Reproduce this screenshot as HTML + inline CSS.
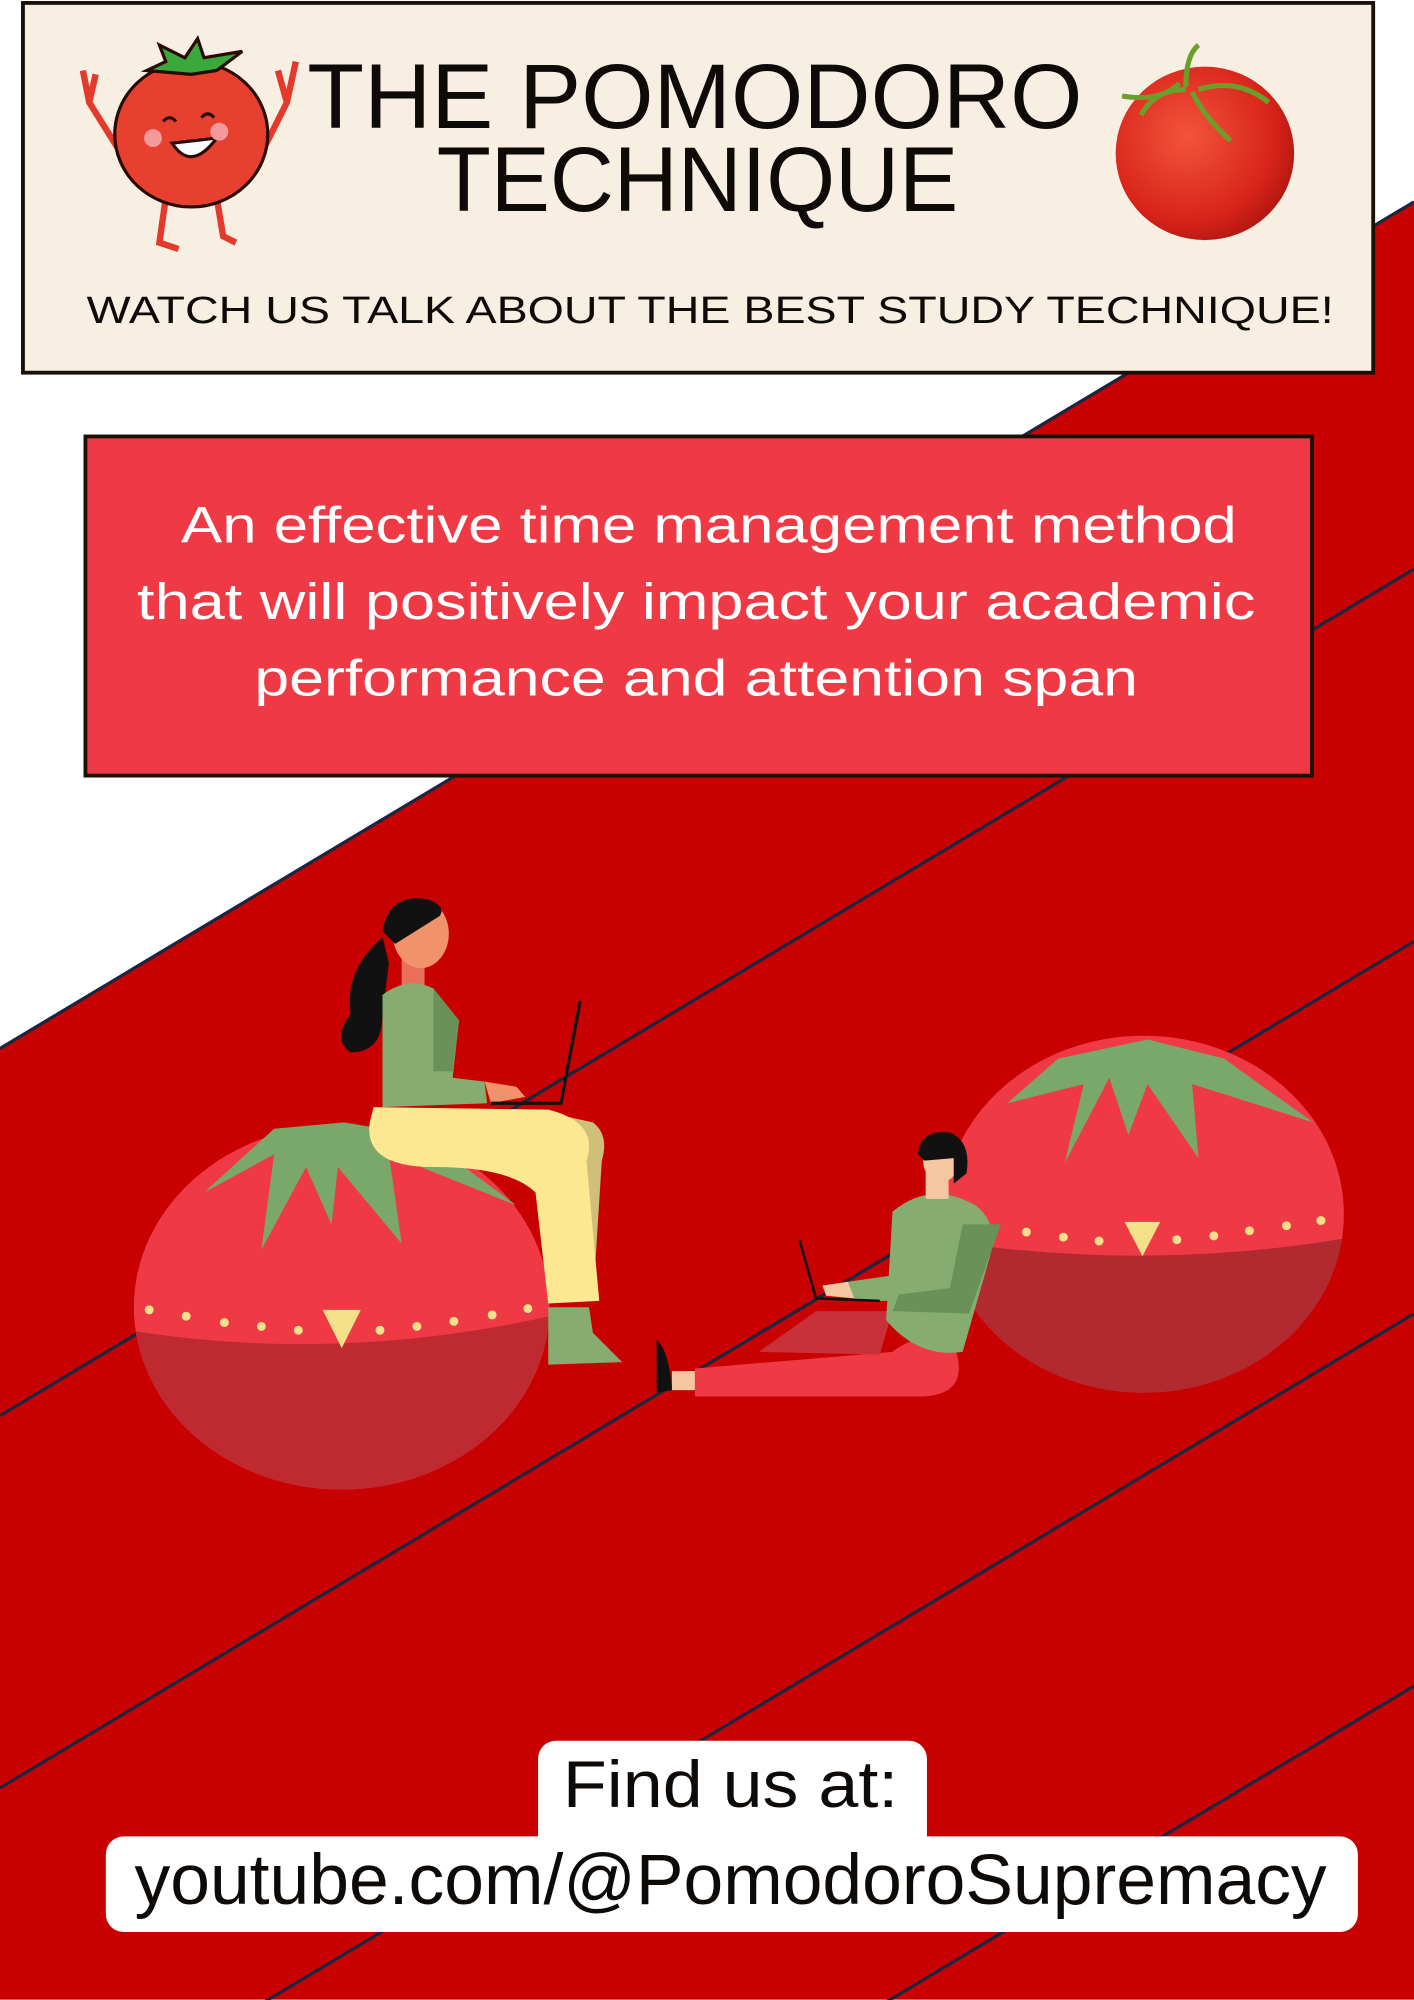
<!DOCTYPE html>
<html><head><meta charset="utf-8"><style>html,body{margin:0;padding:0;background:#fff;width:1414px;height:2000px;overflow:hidden}svg{display:block}</style></head>
<body>
<svg xmlns="http://www.w3.org/2000/svg" width="1414" height="2000" viewBox="0 0 1109 1568" font-family="'Liberation Sans', sans-serif">
<defs>
<clipPath id="cl"><ellipse cx="268" cy="1025" rx="163" ry="143"/></clipPath>
<clipPath id="cr"><ellipse cx="897" cy="952" rx="157" ry="140"/></clipPath>
<radialGradient id="tg" cx="0.4" cy="0.4" r="0.7"><stop offset="0" stop-color="#f2553a"/><stop offset="0.7" stop-color="#d8231a"/><stop offset="1" stop-color="#a5120e"/></radialGradient>
</defs>
<rect width="1109" height="1568" fill="#fff"/>
<polygon points="0,822 1109,158 1109,1568 0,1568" fill="#c80000"/>
<g stroke="#1c2540" stroke-width="2.5">
<line x1="0" y1="822" x2="1109" y2="158"/>
<line x1="0" y1="1110" x2="1109" y2="446"/>
<line x1="0" y1="1402" x2="1109" y2="738"/>
<line x1="0" y1="1694" x2="1109" y2="1030"/>
<line x1="0" y1="1986" x2="1109" y2="1322"/>
</g>
<rect x="18" y="2" width="1059" height="290" fill="#f8efe3" stroke="#1a1008" stroke-width="3"/>
<text x="545" y="100" font-size="72" text-anchor="middle" textLength="608" lengthAdjust="spacingAndGlyphs" fill="#0d0a08">THE POMODORO</text>
<text x="547" y="165" font-size="72" text-anchor="middle" textLength="409" lengthAdjust="spacingAndGlyphs" fill="#0d0a08">TECHNIQUE</text>
<text x="557" y="253" font-size="30" text-anchor="middle" textLength="978" lengthAdjust="spacingAndGlyphs" fill="#0d0a08">WATCH US TALK ABOUT THE BEST STUDY TECHNIQUE!</text>
<g stroke="#2a0a05" stroke-width="2.5">
<path d="M95,120 L70,80 L65,55 M70,80 L75,58" fill="none" stroke="#e33a2c" stroke-width="5"/>
<path d="M205,120 L225,80 L232,48 M225,80 L218,55" fill="none" stroke="#e33a2c" stroke-width="5"/>
<path d="M130,155 L125,190 L140,195 M170,155 L175,185 L185,190" fill="none" stroke="#e33a2c" stroke-width="5"/>
<ellipse cx="150" cy="105" rx="60" ry="57" fill="#e8402f"/>
<path d="M115,55 L130,48 L125,35 L145,45 L155,30 L160,45 L190,40 L170,55 L150,58 Z" fill="#3aa83a"/>
<path d="M135,112 Q150,135 170,108 Z" fill="#fff"/>
<path d="M128,95 q5,-6 10,0 M158,92 q5,-6 10,0" fill="none"/>
</g>
<circle cx="120" cy="108" r="7" fill="#f59a9a"/><circle cx="172" cy="103" r="7" fill="#f59a9a"/>
<ellipse cx="945" cy="120" rx="70" ry="68" fill="url(#tg)"/>
<path d="M925,65 q-15,15 -45,10 M930,68 q0,-25 10,-33 M940,70 q30,-10 55,10 M935,72 q10,20 30,38 M930,70 q-25,0 -35,20" stroke="#6aa02a" stroke-width="4" fill="none"/>
<rect x="67" y="342" width="962" height="266" fill="#ef3a45" stroke="#1a1008" stroke-width="3"/>
<g fill="#fff" font-size="40" text-anchor="middle">
<text x="556" y="425" textLength="828" lengthAdjust="spacingAndGlyphs">An effective time management method</text>
<text x="546" y="485" textLength="877" lengthAdjust="spacingAndGlyphs">that will positively impact your academic</text>
<text x="546" y="545" textLength="693" lengthAdjust="spacingAndGlyphs">performance and attention span</text>
</g>
<ellipse cx="268" cy="1025" rx="163" ry="143" fill="#ef3a45"/>
<path d="M100,1043 Q268,1070 440,1030 L440,1180 L100,1180 Z" fill="#bf2a30" clip-path="url(#cl)"/>
<polygon points="160,935 215,905 205,980 240,915 260,960 265,915 315,975 305,905 405,945 330,890 270,880 215,885" fill="#7aa86a"/>
<g fill="#f5e08a"><circle cx="117" cy="1027" r="3.5"/><circle cx="146" cy="1032" r="3.5"/><circle cx="176" cy="1037" r="3.5"/><circle cx="205" cy="1040" r="3.5"/><circle cx="234" cy="1043" r="3.5"/><circle cx="298" cy="1043" r="3.5"/><circle cx="327" cy="1040" r="3.5"/><circle cx="356" cy="1036" r="3.5"/><circle cx="386" cy="1031" r="3.5"/><circle cx="414" cy="1026" r="3.5"/>
<polygon points="253,1027 283,1027 268,1057"/></g>
<ellipse cx="897" cy="952" rx="157" ry="140" fill="#ef3a45"/>
<path d="M735,972 Q900,998 1060,970 L1060,1100 L735,1100 Z" fill="#b02a30" clip-path="url(#cr)"/>
<polygon points="790,865 850,850 835,912 870,845 885,890 900,850 940,908 935,850 1030,880 960,830 900,815 830,830" fill="#7aa86a"/>
<g fill="#f5e08a"><circle cx="805" cy="966" r="3.5"/><circle cx="834" cy="970" r="3.5"/><circle cx="862" cy="973" r="3.5"/><circle cx="923" cy="972" r="3.5"/><circle cx="952" cy="969" r="3.5"/><circle cx="980" cy="965" r="3.5"/><circle cx="1009" cy="961" r="3.5"/><circle cx="1036" cy="957" r="3.5"/>
<polygon points="882,958 910,958 896,985"/></g>
<path d="M300,735 Q270,760 275,795 Q260,815 275,825 Q300,825 300,795 L305,755 Z" fill="#111"/>
<rect x="315" y="748" width="18" height="30" fill="#e8705a"/>
<ellipse cx="330" cy="732" rx="22" ry="27" fill="#f0936d"/>
<path d="M300,730 Q305,700 335,705 Q350,710 345,718 L310,740 Z" fill="#111"/>
<path d="M300,780 Q320,765 340,775 L360,800 L355,845 L380,848 L382,865 L300,868 Z" fill="#86ad6f"/>
<path d="M340,775 L360,800 L355,840 L340,840 Z" fill="#6a9258"/>
<path d="M380,848 L405,852 L412,860 L385,865 Z" fill="#f0936d"/>
<path d="M420,870 L465,880 Q478,890 472,910 L465,1020 L440,1020 Z" fill="#d0bf78"/>
<path d="M293,868 L430,870 Q470,880 460,910 L470,1020 L430,1022 L420,935 Q400,915 340,915 Q285,915 290,880 Z" fill="#fce890"/>
<path d="M430,1025 L462,1025 L465,1045 L488,1068 L430,1070 Z" fill="#86ad6f"/>
<path d="M455,785 L440,865 L385,865" stroke="#111" stroke-width="2.5" fill="none"/>
<path d="M545,1073 L700,1060 Q725,1040 750,1060 Q760,1095 720,1095 L545,1095 Z" fill="#ef3a45"/>
<path d="M595,1060 L640,1028 L700,1028 L690,1062 Z" fill="#c8303a"/>
<rect x="527" y="1075" width="18" height="15" fill="#f5c7a0"/>
<path d="M515,1050 Q525,1060 527,1090 L515,1092 Z" fill="#111"/>
<path d="M700,950 Q730,925 765,945 Q785,960 775,990 L755,1060 Q720,1065 695,1035 Z" fill="#86ad6f"/>
<path d="M665,1005 L700,1000 L700,1020 L670,1020 Z" fill="#86ad6f"/>
<path d="M755,960 L785,960 L760,1030 L700,1028 L705,1015 L745,1010 Z" fill="#6a9258"/>
<path d="M645,1008 L665,1005 L670,1018 L648,1016 Z" fill="#f5c7a0"/>
<rect x="726" y="915" width="18" height="25" fill="#f5c7a0"/>
<ellipse cx="738" cy="910" rx="14" ry="17" fill="#f5c7a0"/>
<path d="M720,905 Q722,885 745,888 Q762,895 758,920 L748,928 L748,908 L725,910 Z" fill="#111"/>
<path d="M627,972 L640,1018 L690,1020" stroke="#111" stroke-width="2" fill="none"/>
<rect x="422" y="1365" width="305" height="100" rx="14" fill="#fff"/>
<rect x="83" y="1440" width="982" height="75" rx="14" fill="#fff"/>
<text x="573" y="1417" font-size="52" text-anchor="middle" textLength="263" lengthAdjust="spacingAndGlyphs" fill="#0d0a08">Find us at:</text>
<text x="573" y="1493" font-size="56" text-anchor="middle" textLength="935" lengthAdjust="spacingAndGlyphs" fill="#0d0a08">youtube.com/@PomodoroSupremacy</text>
</svg>
</body></html>
